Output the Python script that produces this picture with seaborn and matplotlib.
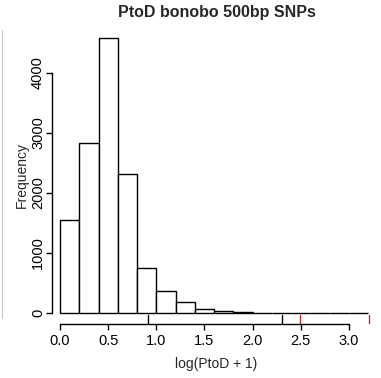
import matplotlib
matplotlib.use("Agg")
import matplotlib.pyplot as plt
import seaborn as sns
import numpy as np
import pandas as pd
from matplotlib.lines import Line2D

# Data
bin_edges = [0.0, 0.2, 0.4, 0.6, 0.8, 1.0, 1.2, 1.4, 1.6, 1.8, 2.0, 2.2, 2.4, 2.6, 2.8, 3.0, 3.2]
counts = [1550, 2830, 4583, 2317, 750, 367, 183, 72, 38, 15, 6, 4, 3, 2, 1, 1]
black_marks = [0.915, 2.31]
red_marks = [2.49, 3.21]
x_ticks = [0.0, 0.5, 1.0, 1.5, 2.0, 2.5, 3.0]
x_tick_labels = ["0.0", "0.5", "1.0", "1.5", "2.0", "2.5", "3.0"]
y_ticks = [0, 1000, 2000, 3000, 4000]
y_tick_labels = ["0", "1000", "2000", "3000", "4000"]
title = "PtoD bonobo 500bp SNPs"
xlabel = "log(PtoD + 1)"
ylabel = "Frequency"

sns.set_style("white")
plt.rcParams['font.family'] = ['Liberation Sans', 'DejaVu Sans']

W, H = 381, 378
fig = plt.figure(figsize=(W / 100, H / 100), dpi=100)
left, right, top, bottom = 52, 381, 27, 324
ax = fig.add_axes([left / W, 1 - bottom / H, (right - left) / W, (bottom - top) / H])

centers = [(a + b) / 2 for a, b in zip(bin_edges[:-1], bin_edges[1:])]
df = pd.DataFrame({"x": centers, "w": counts})
sns.histplot(data=df, x="x", weights="w", bins=bin_edges, ax=ax,
             color="white", edgecolor="black", linewidth=1.0, alpha=1.0)

ppu = 96.3
ax.set_xlim(-8 / ppu, (right - 60) / ppu)
ax.set_ylim(-(324 - 313) / 60 * 1000, (313 - 27) / 60 * 1000)

for s in ["top", "right"]:
    ax.spines[s].set_visible(False)
ax.spines["left"].set_bounds(0, 4000)
ax.spines["bottom"].set_bounds(0, 3.0)
for s in ["left", "bottom"]:
    ax.spines[s].set_linewidth(1.0)
    ax.spines[s].set_color("black")

ax.set_xticks(x_ticks)
ax.set_xticklabels(x_tick_labels)
ax.set_yticks(y_ticks)
ax.set_yticklabels(y_tick_labels, rotation=90, va="center")
ax.tick_params(axis="both", which="both", direction="out", length=4, width=1.0,
               color="black", labelsize=10.5, labelcolor="black", pad=1)
ax.tick_params(axis="x", pad=3)
ax.tick_params(left=True, bottom=True)

for m in black_marks:
    ax.axvline(m, ymin=0, ymax=9 / (bottom - top), color="black", lw=1.0)
for m in red_marks:
    ax.axvline(m, ymin=0, ymax=9 / (bottom - top), color="#c0302f", lw=1.0)

ax.set_xlabel(xlabel, fontsize=10, labelpad=7)
ax.set_ylabel(ylabel, fontsize=10, labelpad=1.5)
ax.set_title(title, fontsize=11.5, fontweight="bold", pad=7)

fig.add_artist(Line2D([1.5 / W, 1.5 / W], [1 - 30 / H, 1 - 318 / H],
                      transform=fig.transFigure, color="#cccccc", lw=1.0))

fig.savefig("out.png", dpi=100, facecolor="white")
